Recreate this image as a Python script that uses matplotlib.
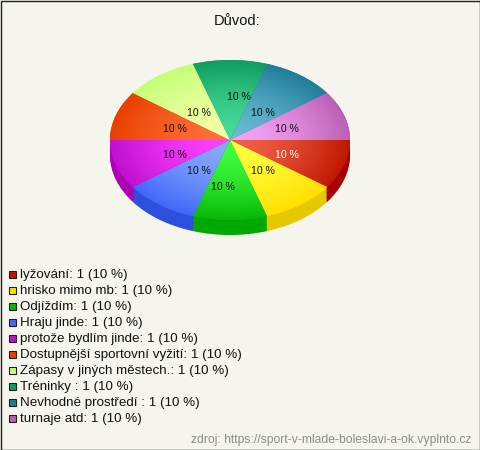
import matplotlib
matplotlib.use('Agg')
import matplotlib.pyplot as plt
from matplotlib.colors import LinearSegmentedColormap
from matplotlib.patches import Rectangle
import numpy as np

plt.rcParams['font.family'] = ['Liberation Sans', 'DejaVu Sans']

title = 'Důvod:'
source = 'zdroj: https://sport-v-mlade-boleslavi-a-ok.vyplnto.cz'
categories = ['lyžování', 'hrisko mimo mb', 'Odjíždím', 'Hraju jinde', 'protože bydlím jinde',
              'Dostupnější sportovní vyžití', 'Zápasy v jiných městech.', 'Tréninky ',
              'Nevhodné prostředí ', 'turnaje atd']
values = [1, 1, 1, 1, 1, 1, 1, 1, 1, 1]
percents = [10, 10, 10, 10, 10, 10, 10, 10, 10, 10]

# colours: legend/outer edge, middle of the pie, side wall
outer_colors = ['#c01800', '#ffe000', '#08b808', '#4068f8', '#c010d0',
                '#e84000', '#c4ff78', '#109c60', '#207c98', '#bc60b4']
inner_colors = ['#f06048', '#ffff40', '#40ff40', '#88aaff', '#ff40ff',
                '#ff7038', '#f4ffa8', '#48dc98', '#68bcd4', '#f4a4f4']
side_colors = ['#a80000', '#e4c800', '#00a800', '#2c50dc', '#ac00b4',
               '#c83000', '#a8e060', '#088850', '#106880', '#a04898']
# label offsets from the pie centre in px, the original places them on a fixed grid
label_dx = [57, 33, -7, -31, -55, -55, -31, 9, 33, 57]
label_dy = [15, 31, 47, 31, 15, -11, -27, -43, -27, -11]

bg = '#f5f5ee'
depth = 15 / 80  # height of the side wall, in pie radii

fig = plt.figure(figsize=(4.8, 4.5), dpi=100, facecolor=bg)

# whole figure in pixels, for the legend and the other text
page = fig.add_axes([0, 0, 1, 1])
page.set_xlim(0, 480)
page.set_ylim(450, 0)
page.axis('off')
page.add_patch(Rectangle((0.5, 0.5), 479, 449, fill=False, edgecolor='#202020', linewidth=1))
page.text(237, 21, title, ha='center', va='center', fontsize=10.5, color='#111111')
page.text(471, 439.5, source, ha='right', va='center', fontsize=8.75, color='#8c8c8c')

for i, name in enumerate(categories):
    y = 274 + i * 16
    page.add_patch(Rectangle((9, y - 3.5), 7, 7, facecolor=outer_colors[i], edgecolor='#202020', linewidth=0.8))
    page.text(20, y + 1, f'{name}: {values[i]} ({percents[i]} %)', ha='left', va='center',
              fontsize=9.6, color='#111111')

# the pie, squashed by the shape of its axes: 120 x 80 px radius
ax = fig.add_axes([80 / 480, 210 / 450, 300 / 480, 200 / 450])

for off in np.linspace(depth, 0.01, 12):
    ax.pie(values, colors=side_colors, startangle=0, counterclock=False, center=(0, -off))

wedges, texts, autotexts = ax.pie(values, colors=outer_colors, startangle=0, counterclock=False,
                                  autopct='%d %%', pctdistance=0.5,
                                  textprops={'fontsize': 7.6, 'color': '#111111'})

xx, yy = np.meshgrid(np.linspace(-1, 1, 300), np.linspace(-1, 1, 300))
rr = np.sqrt(xx ** 2 + yy ** 2) ** 1.6  # stays bright until close to the edge
for i, w in enumerate(wedges):
    cmap = LinearSegmentedColormap.from_list('w', [inner_colors[i], outer_colors[i]])
    im = ax.imshow(rr, cmap=cmap, vmin=0, vmax=1, extent=(-1, 1, -1, 1), aspect='auto', zorder=w.get_zorder())
    im.set_clip_path(w)

for i, t in enumerate(autotexts):
    t.set_zorder(5)
    t.set_position((label_dx[i] / 120, -label_dy[i] / 80))
    if i == 0:
        t.set_color('white')

ax.set_xlim(-1.25, 1.25)
ax.set_ylim(-1.25, 1.25)
ax.set_aspect('auto')
ax.axis('off')

fig.savefig('out.png', dpi=100, facecolor=bg)
